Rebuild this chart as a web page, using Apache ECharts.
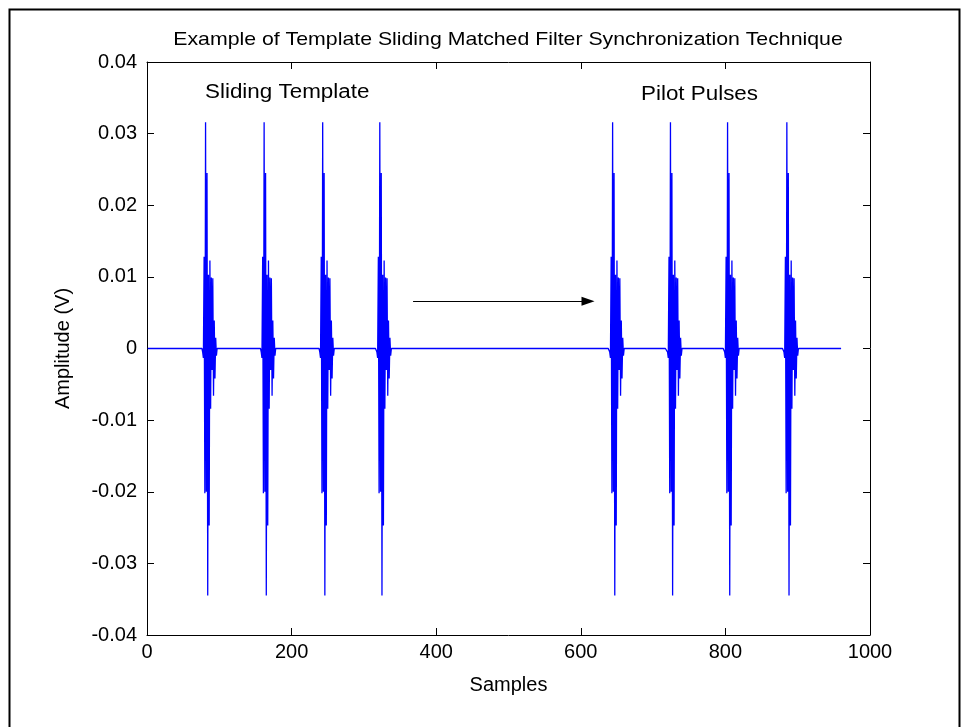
<!DOCTYPE html>
<html>
<head>
<meta charset="utf-8">
<script src="https://cdn.jsdelivr.net/npm/echarts@6/dist/echarts.min.js"></script>
<style>
  html, body { margin: 0; padding: 0; background: #fff; }
  #main { width: 964px; height: 727px; }
</style>
</head>
<body>
<div id="main"></div>
<script>
// 每个脉冲的采样值
const pulseShape = [
  -0.0005, -0.0013, 0.0128, -0.0202, 0.0316, -0.0200, 0.0245, -0.0345,
  0.0103, -0.0247, 0.0123, -0.0084, 0.0099, -0.0030, 0.0098, -0.0066,
  0.0039, -0.0042, 0.0015, -0.0010
];
// 滑动模板脉冲起点
const templateStarts = [77, 158, 239, 318];
// 导频脉冲起点
const pilotStarts = [640, 720, 799, 881];
const sampleCount = 960;

const xTicks = [0, 200, 400, 600, 800, 1000];
const yTickLabels = ['-0.04', '-0.03', '-0.02', '-0.01', '0', '0.01', '0.02', '0.03', '0.04'];

// 组装信号
const signal = [];
for (let i = 1; i <= sampleCount; i++) signal.push([i, 0]);
templateStarts.concat(pilotStarts).forEach(s => {
  pulseShape.forEach((v, k) => {
    const idx = s + k - 1;
    if (idx >= 0 && idx < sampleCount) signal[idx][1] = v;
  });
});

const font = 'Liberation Sans, Arial, sans-serif';
const fs = 20;
const myChart = echarts.init(document.getElementById('main'));

const yFormatter = v => {
  const i = Math.round((v + 0.04) / 0.01);
  return yTickLabels[i] !== undefined ? yTickLabels[i] : '';
};
const xFormatter = v => {
  const t = xTicks.find(x => Math.abs(x - v) < 1e-6);
  return t !== undefined ? String(t) : '';
};

const tickStyle = { show: true, inside: true, length: 7, lineStyle: { color: '#000' } };
const lineStyle = { show: true, onZero: false, lineStyle: { color: '#000', width: 1 } };

const option = {
  animation: false,
  backgroundColor: '#fff',
  grid: { left: 147, right: 94, top: 62, bottom: 92 },
  xAxis: [{
    type: 'value', min: 0, max: 1000, interval: 200,
    name: 'Samples', nameLocation: 'middle', nameGap: 40,
    nameTextStyle: { fontFamily: font, fontSize: fs, color: '#000' },
    axisLine: lineStyle,
    axisTick: tickStyle,
    axisLabel: { fontFamily: font, fontSize: fs, color: '#000', margin: 7, formatter: xFormatter },
    splitLine: { show: false }
  }, {
    type: 'value', min: 0, max: 1000, interval: 200, position: 'top',
    axisLine: lineStyle,
    axisTick: tickStyle,
    axisLabel: { show: false },
    splitLine: { show: false }
  }],
  yAxis: [{
    type: 'value', min: -0.04, max: 0.04, interval: 0.01,
    name: 'Amplitude (V)', nameLocation: 'middle', nameGap: 74,
    nameTextStyle: { fontFamily: font, fontSize: fs, color: '#000' },
    axisLine: lineStyle,
    axisTick: tickStyle,
    axisLabel: { fontFamily: font, fontSize: fs, color: '#000', margin: 10, formatter: yFormatter },
    splitLine: { show: false }
  }, {
    type: 'value', min: -0.04, max: 0.04, interval: 0.01, position: 'right',
    axisLine: lineStyle,
    axisTick: tickStyle,
    axisLabel: { show: false },
    splitLine: { show: false }
  }],
  series: [{
    type: 'line',
    data: signal,
    showSymbol: false,
    sampling: null,
    lineStyle: { color: '#0000ff', width: 1.3 },
    itemStyle: { color: '#0000ff' },
    silent: true,
    markLine: {
      silent: true,
      symbol: ['none', 'triangle'],
      symbolSize: [9, 13],
      label: { show: false },
      lineStyle: { color: '#000', width: 1.2, type: 'solid' },
      data: [[{ coord: [368, 0.0066] }, { coord: [610, 0.0066] }]]
    }
  }],
  graphic: [
    {
      type: 'rect', left: 7, top: 7,
      shape: { width: 950, height: 730 },
      style: { fill: 'none', stroke: '#000', lineWidth: 2 }
    },
    {
      type: 'text', x: 508, y: 30, scaleX: 1.12,
      style: {
        text: 'Example of Template Sliding Matched Filter Synchronization Technique',
        font: '19px ' + font, fill: '#000', align: 'center'
      }
    },
    {
      type: 'text', x: 205, y: 82, scaleX: 1.12,
      style: { text: 'Sliding Template', font: fs + 'px ' + font, fill: '#000' }
    },
    {
      type: 'text', x: 641, y: 84, scaleX: 1.12,
      style: { text: 'Pilot Pulses', font: fs + 'px ' + font, fill: '#000' }
    }
  ]
};
myChart.setOption(option);
</script>
</body>
</html>
